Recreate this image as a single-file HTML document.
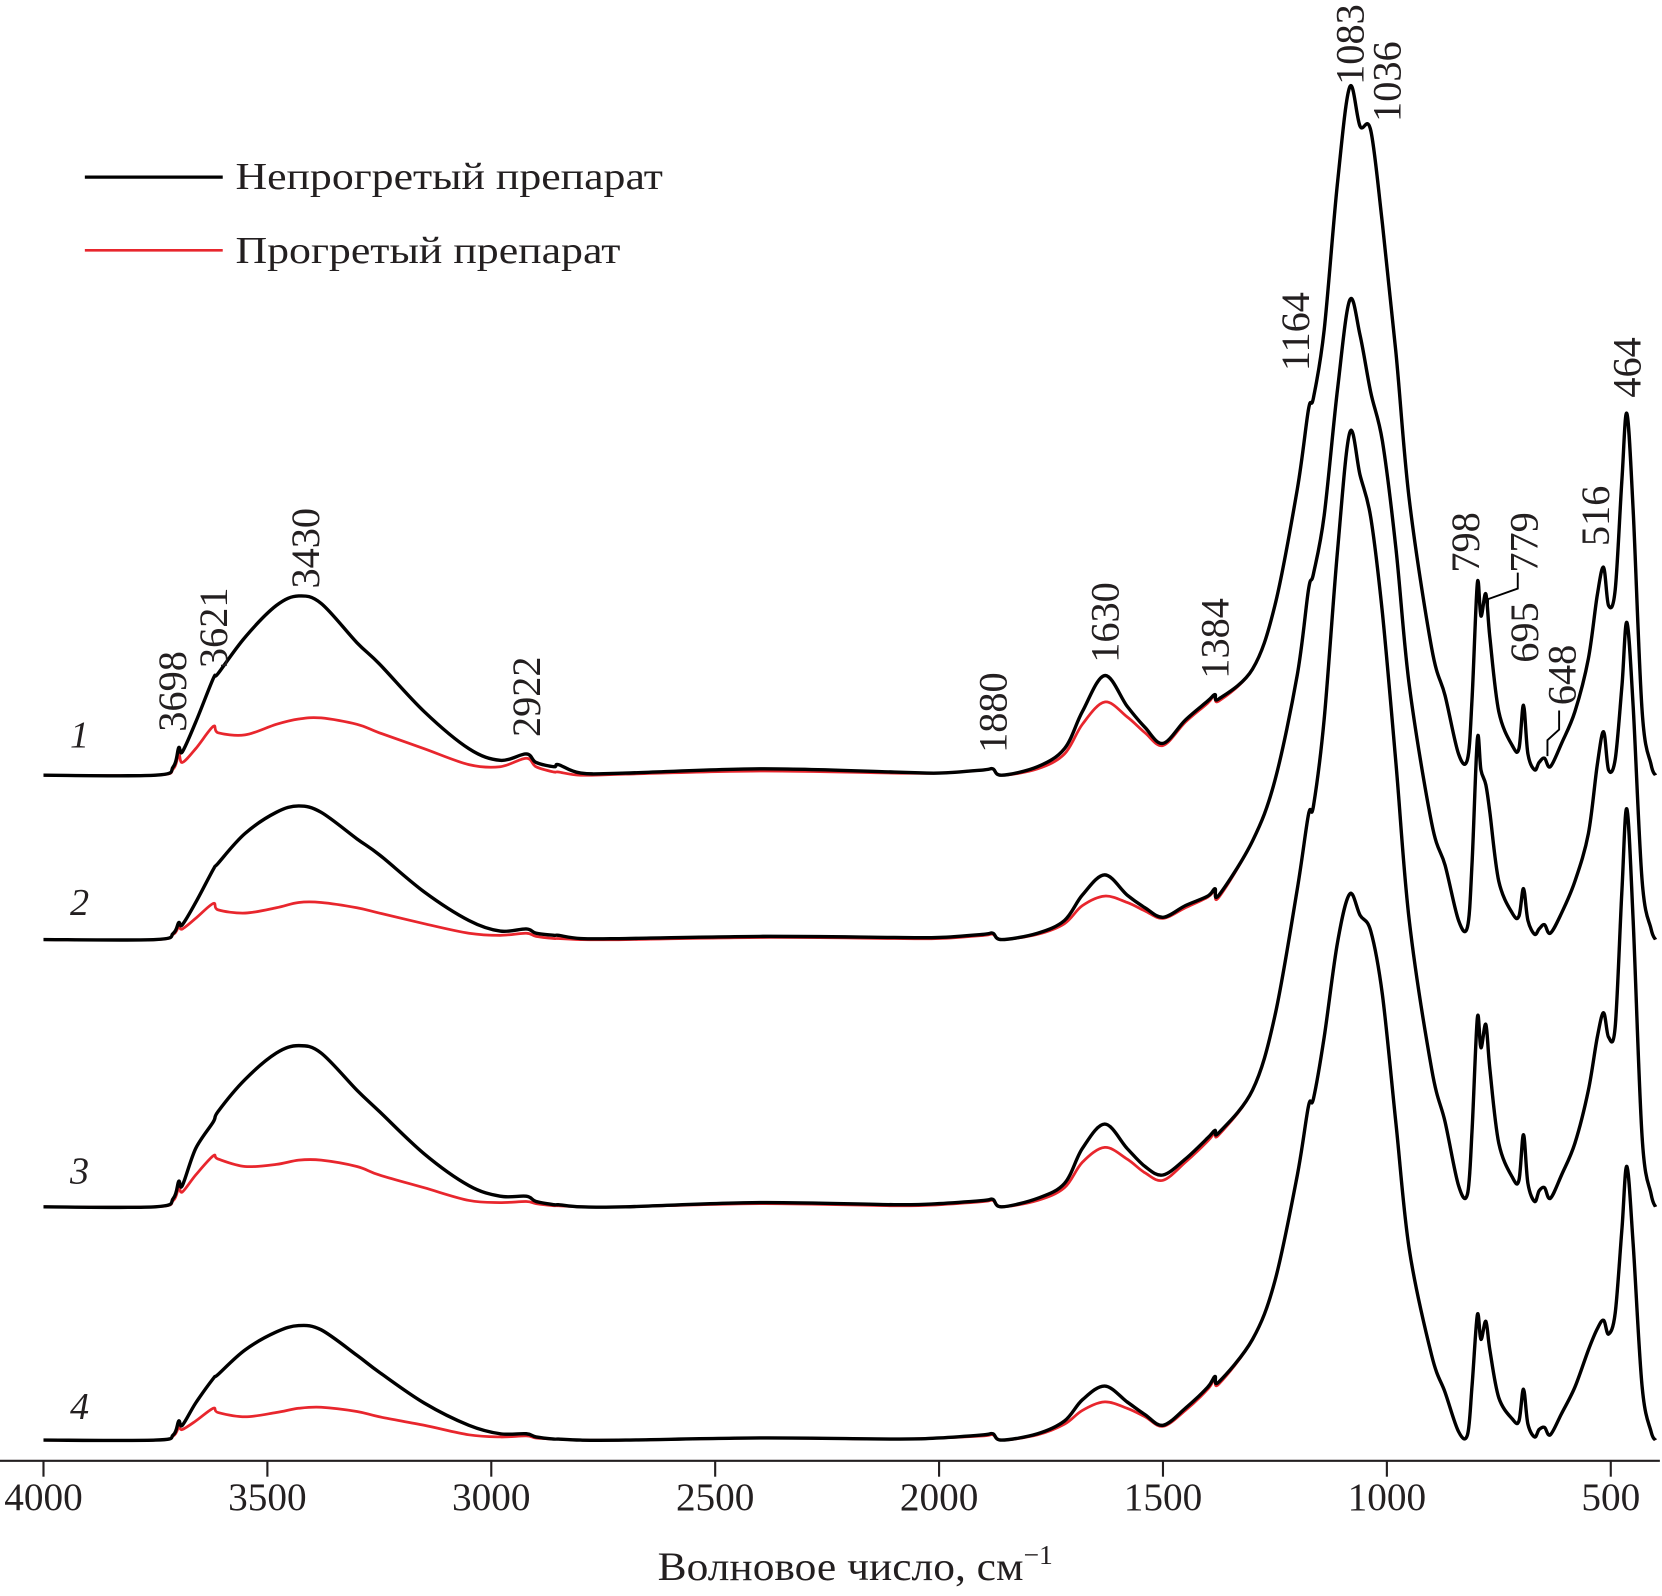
<!DOCTYPE html>
<html><head><meta charset="utf-8"><style>
html,body{margin:0;padding:0;background:#fff}
svg{display:block}
text{font-family:"Liberation Serif",serif;fill:#231f20}
</style></head><body>
<svg id="chart" width="1662" height="1596" viewBox="0 0 1567 1505" preserveAspectRatio="none" xmlns="http://www.w3.org/2000/svg">
<g id="legend">
<line x1="80" y1="167" x2="210" y2="167" stroke="#000" stroke-width="3"/>
<text x="222" y="178" font-size="36" textLength="403" lengthAdjust="spacingAndGlyphs">Непрогретый препарат</text>
<line x1="80" y1="236" x2="210" y2="236" stroke="#e8262d" stroke-width="2.5"/>
<text x="222" y="248" font-size="36" textLength="363" lengthAdjust="spacingAndGlyphs">Прогретый препарат</text>
</g>
<g id="series"></g>
<g id="axis"></g>
<g id="labels"></g>
<text x="620" y="1490" font-size="38"><tspan textLength="345" lengthAdjust="spacingAndGlyphs">Волновое число, см</tspan><tspan font-size="26" dy="-15">−1</tspan></text>
</svg>
<script>
const wavenumbers=[4000,3750,3710,3698,3690,3660,3621,3610,3550,3480,3430,3380,3300,3250,3150,3050,2980,2922,2900,2860,2850,2800,2700,
2400,2100,2000,1900,1880,1860,1780,1720,1680,1630,1580,1540,1500,1450,1400,1384,1375,
1300,1250,1200,1175,1164,1140,1110,1083,1060,1036,1010,980,950,900,870,840,820,810,
798,790,779,770,750,720,705,695,685,670,660,648,635,610,580,550,530,516,505,490,475,464,450,430,410,400];
const sampleBaselines=[731,886,1138,1358];
const sampleNames=["1","2","3","4"];
const blackS1=[0,0,8,26,22,50,91,96,130,160,169,162,125,105,60,25,14,20,12,8,10,2,2,
6,3,2,5,6,0,8,25,60,94,65,45,30,52,70,76,72,
100,160,270,345,356,420,560,649,612,608,520,400,260,120,75,20,15,70,
181,150,171,130,60,28,25,66,20,5,12,16,8,30,60,110,170,196,160,175,280,341,250,60,10,0];
const redS1=[0,0,6,20,12,25,46,40,38,48,53,54,48,40,25,10,8,16,8,3,3,0,1,
4,2,2,5,6,0,6,20,48,69,55,40,28,50,68,76,70,
100,160,270,345,356,420,560,649,612,608,520,400,260,120,75,20,15,70,
181,150,171,130,60,28,25,66,20,5,12,16,8,30,60,110,170,196,160,175,280,341,250,60,10,0];
const blackS2=[0,0,6,16,14,35,66,72,100,120,126,120,95,80,45,18,8,10,6,4,4,1,1,
3,2,2,5,6,0,6,18,42,61,42,30,21,32,41,48,42,
93,150,250,330,345,400,520,603,570,516,470,370,240,110,70,18,12,70,
189,160,146,120,55,25,22,48,18,5,10,14,6,25,55,100,165,196,160,170,240,299,220,55,10,0];
const redS2=[0,0,5,12,10,20,34,28,25,30,35,35,30,25,15,6,4,6,3,1,1,0,0,
2,1,1,4,5,0,5,15,32,41,35,27,20,30,40,46,40,
93,150,250,330,345,400,520,603,570,516,470,370,240,110,70,18,12,70,
189,160,146,120,55,25,22,48,18,5,10,14,6,25,55,100,165,196,160,170,240,299,220,55,10,0];
const blackS3=[0,0,8,24,20,55,80,90,120,145,152,145,110,90,50,20,10,10,5,2,2,0,0,
4,2,3,6,7,0,8,22,55,78,55,38,30,45,65,72,70,
110,180,300,370,378,460,620,730,690,650,560,420,270,130,80,20,12,70,
178,150,172,130,60,28,25,68,22,5,15,18,8,30,60,110,160,183,160,170,300,375,270,65,12,0];
const redS3=[0,0,6,18,14,30,48,45,38,40,44,44,38,30,18,6,4,5,3,1,1,0,0,
3,1,2,5,6,0,6,18,42,56,45,32,25,42,62,70,68,
110,180,300,370,378,460,620,730,690,650,560,420,270,130,80,20,12,70,
178,150,172,130,60,28,25,68,22,5,15,18,8,30,60,110,160,183,160,170,300,375,270,65,12,0];
const blackS4=[0,0,5,18,14,35,58,62,85,102,108,104,80,64,35,14,6,6,3,1,1,0,0,
2,1,2,5,6,0,6,18,38,51,36,24,14,30,50,60,55,
95,150,250,315,322,380,470,515,495,480,420,300,180,80,45,8,5,50,
118,95,112,85,40,20,18,48,15,3,10,12,5,25,50,85,105,113,100,120,200,258,185,50,8,0];
const redS4=[0,0,4,12,10,18,30,26,22,26,30,31,27,22,14,5,3,4,2,1,1,0,0,
2,1,2,4,5,0,5,15,28,36,30,22,13,28,48,58,53,
95,150,250,315,322,380,470,515,495,480,420,300,180,80,45,8,5,50,
118,95,112,85,40,20,18,48,15,3,10,12,5,25,50,85,105,113,100,120,200,258,185,50,8,0];
const blackSeries=[blackS1,blackS2,blackS3,blackS4];
const redSeries=[redS1,redS2,redS3,redS4];
const tickValues=[4000,3500,3000,2500,2000,1500,1000,500];
const tickLabels=["4000","3500","3000","2500","2000","1500","1000","500"];
const peakLabels=["3698","3621","3430","2922","1880","1630","1384","1164","1083","1036","798","779","695","648","516","464"];
const peakLabelWn=[3712,3621,3415,2922,1880,1630,1384,1205,1083,1000,825,695,693,610,535,464];
const peakLabelHeights=[41,101,176,36,21,106,91,381,651,616,191,191,106,66,216,356];

const NS="http://www.w3.org/2000/svg";
const X0=41, PX_PER=211.1/500;
function xScale(w){return X0+(4000-w)*PX_PER;}
function yScale(v,base){return base-v;}
function smoothPath(pts){
  let d="M"+pts[0][0].toFixed(1)+","+pts[0][1].toFixed(1);
  for(let i=0;i<pts.length-1;i++){
    const p0=pts[i-1]||pts[i],p1=pts[i],p2=pts[i+1],p3=pts[i+2]||pts[i+1];
    const c1x=p1[0]+(p2[0]-p0[0])/6, c1y=p1[1]+(p2[1]-p0[1])/6;
    const c2x=p2[0]-(p3[0]-p1[0])/6, c2y=p2[1]-(p3[1]-p1[1])/6;
    d+=" C"+c1x.toFixed(1)+","+c1y.toFixed(1)+" "+c2x.toFixed(1)+","+c2y.toFixed(1)+" "+p2[0].toFixed(1)+","+p2[1].toFixed(1);
  }
  return d;
}
const g=document.getElementById("series");
for(let s=0;s<4;s++){
  const base=sampleBaselines[s];
  [["red",redSeries[s],"#e8262d",2.6],["black",blackSeries[s],"#000",3.2]].forEach(function(cfg){
    const pts=wavenumbers.map(function(w,i){return [xScale(w),yScale(cfg[1][i],base)];});
    const p=document.createElementNS(NS,"path");
    p.setAttribute("d",smoothPath(pts));
    p.setAttribute("fill","none");
    p.setAttribute("stroke",cfg[2]);
    p.setAttribute("stroke-width",cfg[3]);
    p.setAttribute("stroke-linejoin","round");
    
    
    g.appendChild(p);
  });
  const t=document.createElementNS(NS,"text");
  t.setAttribute("x",66);t.setAttribute("y",[705,863,1116,1338][s]);
  t.setAttribute("font-size","36");t.setAttribute("font-style","italic");
  t.textContent=sampleNames[s];
  
  
  g.appendChild(t);
}
const ax=document.getElementById("axis");
const AY=1377.5;
const al=document.createElementNS(NS,"line");
al.setAttribute("x1",0);al.setAttribute("x2",1565);al.setAttribute("y1",AY);al.setAttribute("y2",AY);
al.setAttribute("stroke","#231f20");al.setAttribute("stroke-width","2");


ax.appendChild(al);
tickValues.forEach(function(v,i){
  const x=xScale(v);
  const tk=document.createElementNS(NS,"line");
  tk.setAttribute("x1",x);tk.setAttribute("x2",x);tk.setAttribute("y1",AY);tk.setAttribute("y2",AY+15);
  tk.setAttribute("stroke","#231f20");tk.setAttribute("stroke-width","2");
  
  
  ax.appendChild(tk);
  const tl=document.createElementNS(NS,"text");
  tl.setAttribute("x",x);tl.setAttribute("y",1424);tl.setAttribute("font-size","37");tl.setAttribute("text-anchor","middle");
  tl.textContent=tickLabels[i];
  
  
  ax.appendChild(tl);
});
const lg=document.getElementById("labels");
peakLabels.forEach(function(lab,i){
  const x=xScale(peakLabelWn[i]);
  const y=yScale(peakLabelHeights[i],731);
  const t=document.createElementNS(NS,"text");
  t.setAttribute("x",0);t.setAttribute("y",0);t.setAttribute("font-size","38");
  t.setAttribute("transform","translate("+(x+13).toFixed(1)+","+y+") rotate(-90)");
  t.textContent=lab;
  
  
  lg.appendChild(t);
});
const c1=document.createElementNS(NS,"polyline");
c1.setAttribute("points","1403,578 1403,565 1431,555 1431,540");
c1.setAttribute("fill","none");c1.setAttribute("stroke","#000");c1.setAttribute("stroke-width","1.8");


lg.appendChild(c1);
const c2=document.createElementNS(NS,"polyline");
c2.setAttribute("points","1459,713 1459,698 1470,688 1470,670");
c2.setAttribute("fill","none");c2.setAttribute("stroke","#000");c2.setAttribute("stroke-width","1.8");


lg.appendChild(c2);
</script>
</body></html>
